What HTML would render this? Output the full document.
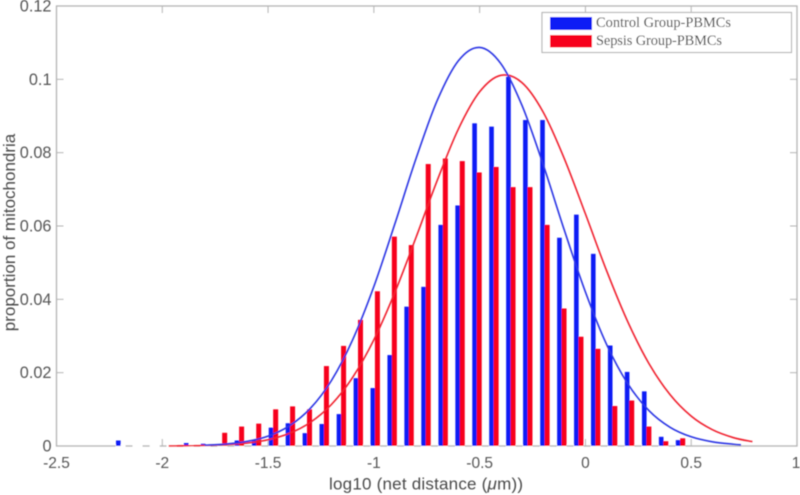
<!DOCTYPE html>
<html>
<head>
<meta charset="utf-8">
<title>Mitochondria net distance histogram</title>
<style>
html,body{margin:0;padding:0;background:#fff;}
body{width:800px;height:495px;overflow:hidden;}
svg{display:block;}
</style>
</head>
<body>
<svg id="chart" width="800" height="495" viewBox="0 0 800 495" xmlns="http://www.w3.org/2000/svg">
  <defs><filter id="soft" x="-2%" y="-2%" width="104%" height="104%"><feGaussianBlur stdDeviation="0.4"/></filter></defs>
  <rect x="0" y="0" width="800" height="495" fill="#fff"/>
  <g id="plot" filter="url(#soft)"></g>
</svg>
<script>
const binCenters = [-2.197,-2.117,-2.036,-1.956,-1.876,-1.796,-1.716,-1.636,-1.555,-1.475,-1.395,-1.315,-1.235,-1.154,-1.074,-0.994,-0.914,-0.834,-0.754,-0.673,-0.593,-0.513,-0.433,-0.353,-0.273,-0.192,-0.112,-0.032,0.048,0.128,0.208,0.289,0.369,0.449];
const controlBars = [0.0015,0,0,0,0.0008,0.0006,0.0002,0.0015,0.0015,0.005,0.0062,0.0035,0.006,0.0087,0.0185,0.0158,0.0248,0.038,0.0434,0.0603,0.0656,0.088,0.0871,0.1007,0.0889,0.0889,0.0568,0.0631,0.0524,0.0274,0.0202,0.0149,0.0025,0.0016];
const sepsisBars = [0,0,0,0,0,0,0.0036,0.0053,0.0061,0.01,0.0108,0.01,0.0218,0.0273,0.0344,0.0422,0.0571,0.0548,0.0769,0.0784,0.0777,0.0746,0.0761,0.0706,0.0706,0.0603,0.0375,0.0298,0.0265,0.0109,0.0124,0.0053,0.0013,0.0021];
const controlCurveX = [-1.8,-1.7,-1.6,-1.5,-1.4,-1.3,-1.2,-1.1,-1,-0.9,-0.8,-0.7,-0.6,-0.5,-0.4,-0.3,-0.2,-0.1,0,0.1,0.2,0.3,0.4,0.5,0.6,0.7,0.735];
const controlCurveY = [0.00021,0.00053,0.00124,0.0027,0.00547,0.01027,0.0179,0.029,0.0435,0.0607,0.0785,0.0943,0.1051,0.1087,0.1043,0.0929,0.0768,0.0589,0.042,0.0277,0.017,0.00967,0.00511,0.00251,0.00114,0.00048,0.0003];
const sepsisCurveX = [-1.97,-1.9,-1.8,-1.7,-1.6,-1.5,-1.4,-1.3,-1.2,-1.1,-1,-0.9,-0.8,-0.7,-0.6,-0.5,-0.4,-0.3,-0.2,-0.1,0,0.1,0.2,0.3,0.4,0.5,0.6,0.7,0.789];
const sepsisCurveY = [0.00003,0.00005,0.00014,0.00035,0.0008,0.00171,0.00343,0.00645,0.01135,0.01873,0.02896,0.04198,0.057,0.0725,0.0865,0.0966,0.1011,0.0991,0.0911,0.0784,0.0633,0.0478,0.0339,0.0225,0.014,0.00814,0.00444,0.00227,0.00118];
const xTicks = [-2.5,-2,-1.5,-1,-0.5,0,0.5,1];
const xTickLabels = ['-2.5','-2','-1.5','-1','-0.5','0','0.5','1'];
const yTicks = [0,0.02,0.04,0.06,0.08,0.1,0.12];
const yTickLabels = ['0','0.02','0.04','0.06','0.08','0.1','0.12'];

const NS = 'http://www.w3.org/2000/svg';
const plot = document.getElementById('plot');
const LEFT = 56.5, RIGHT = 797, TOP = 6, BOTTOM = 446;
const xScale = v => LEFT + (v + 2.5) / 3.5 * (RIGHT - LEFT);
const yScale = v => BOTTOM - v / 0.12 * (BOTTOM - TOP);

function mk(tag, attrs, text) {
  const el = document.createElementNS(NS, tag);
  for (const k in attrs) el.setAttribute(k, attrs[k]);
  if (text !== undefined) el.textContent = text;
  plot.appendChild(el);
  return el;
}
function smoothPath(xs, ys) {
  const p = xs.map((x, i) => [xScale(x), yScale(ys[i])]);
  let d = 'M' + p[0][0].toFixed(2) + ' ' + p[0][1].toFixed(2);
  for (let i = 0; i < p.length - 1; i++) {
    const a = p[Math.max(0, i - 1)], b = p[i], c = p[i + 1], e = p[Math.min(p.length - 1, i + 2)];
    const c1x = b[0] + (c[0] - a[0]) / 6, c1y = b[1] + (c[1] - a[1]) / 6;
    const c2x = c[0] - (e[0] - b[0]) / 6, c2y = c[1] - (e[1] - b[1]) / 6;
    d += 'C' + c1x.toFixed(2) + ' ' + c1y.toFixed(2) + ' ' + c2x.toFixed(2) + ' ' + c2y.toFixed(2) + ' ' + c[0].toFixed(2) + ' ' + c[1].toFixed(2);
  }
  return d;
}

const AXIS = '#b4b4b4', LABEL = '#555555';
const FONT = '"Liberation Sans", Arial, sans-serif';

// Axes box
const box = mk('rect', {x: LEFT, y: TOP, width: RIGHT - LEFT, height: BOTTOM - TOP, fill: 'none', stroke: AXIS, 'stroke-width': 1.3});



// X ticks
xTicks.forEach((t, i) => {
  const x = xScale(t);
  const tb = mk('line', {x1: x, x2: x, y1: BOTTOM, y2: BOTTOM - 7, stroke: AXIS, 'stroke-width': 1});
  
  
  const tt = mk('line', {x1: x, x2: x, y1: TOP, y2: TOP + 7, stroke: AXIS, 'stroke-width': 1});
  
  
  const anchorX = i === xTicks.length - 1 ? x - 1 : x;
  const lb = mk('text', {x: anchorX, y: 468, 'text-anchor': 'middle', 'font-family': FONT, 'font-size': 15.5, fill: LABEL}, xTickLabels[i]);
  
  
});

// Y ticks
yTicks.forEach((t, i) => {
  const y = yScale(t);
  const tl = mk('line', {x1: LEFT, x2: LEFT + 7, y1: y, y2: y, stroke: AXIS, 'stroke-width': 1});
  
  
  const tr = mk('line', {x1: RIGHT, x2: RIGHT - 7, y1: y, y2: y, stroke: AXIS, 'stroke-width': 1});
  
  
  const lb = mk('text', {x: 51.5, y: Math.min(y + 5.5, 452.5), 'text-anchor': 'end', 'font-family': FONT, 'font-size': 16.3, fill: LABEL}, yTickLabels[i]);
  
  
});

// White bar edges break the baseline into dashes
binCenters.forEach((c, i) => {
  const gap = mk('rect', {x: xScale(c) - 5, y: BOTTOM - 1.2, width: 10, height: 2.4, fill: '#fff'});
  
  
});

// Bars
binCenters.forEach((c, i) => {
  const bx = xScale(c) - 2.3;
  const rx = xScale(c) + 2.3;
  if (controlBars[i] > 0) {
    const b = mk('rect', {x: bx - 2.3, y: yScale(controlBars[i]), width: 4.6, height: BOTTOM - yScale(controlBars[i]), fill: '#0a1cf5'});
    
    
  }
  if (sepsisBars[i] > 0) {
    const r = mk('rect', {x: rx - 2.5, y: yScale(sepsisBars[i]), width: 5, height: BOTTOM - yScale(sepsisBars[i]), fill: '#f7061f'});
    
    
  }
});

// Fit curves
const sc = mk('path', {d: smoothPath(sepsisCurveX, sepsisCurveY), fill: 'none', stroke: '#f0202f', 'stroke-width': 1.6});


const cc = mk('path', {d: smoothPath(controlCurveX, controlCurveY), fill: 'none', stroke: '#2a34e4', 'stroke-width': 1.6});



// Axis titles
const xt = mk('text', {x: 329, y: 489.3, 'font-family': FONT, 'font-size': 17, fill: '#4a4a4a', textLength: 194, lengthAdjust: 'spacing'});


xt.innerHTML = 'log10 (net distance (<tspan font-style="italic">\u03BC</tspan>m))';
const yt = mk('text', {transform: 'translate(15,232.5) rotate(-90)', 'text-anchor': 'middle', 'font-family': FONT, 'font-size': 17, fill: '#4a4a4a'});


yt.textContent = 'proportion of mitochondria';

// Legend
const lg = mk('rect', {x: 542, y: 12.5, width: 249.5, height: 40, fill: '#fff', stroke: AXIS, 'stroke-width': 1.1});


const ls1 = mk('rect', {x: 550, y: 17, width: 42, height: 13, fill: '#0a1cf5'});


const ls2 = mk('rect', {x: 550, y: 35, width: 42, height: 12.5, fill: '#f7061f'});


const lt1 = mk('text', {x: 596, y: 27, 'font-family': '"Liberation Serif", serif', 'font-size': 14.4, fill: '#3e3e3e', textLength: 135, lengthAdjust: 'spacing'}, 'Control Group-PBMCs');


const lt2 = mk('text', {x: 596, y: 45, 'font-family': '"Liberation Serif", serif', 'font-size': 14.4, fill: '#3e3e3e', textLength: 126, lengthAdjust: 'spacing'}, 'Sepsis Group-PBMCs');


</script>
</body>
</html>
